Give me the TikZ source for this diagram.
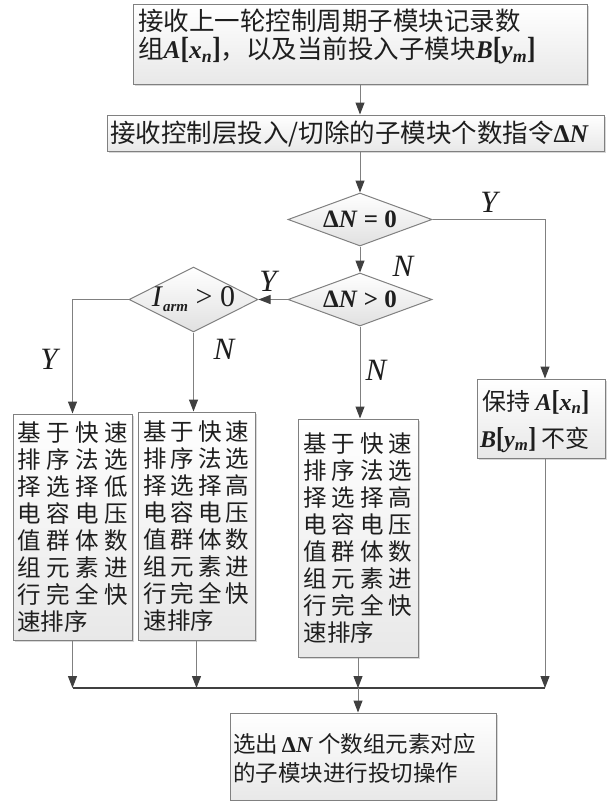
\documentclass[tikz,border=0pt]{standalone}
\usepackage{fontspec}
\setmainfont{Noto Sans CJK SC}
\newfontfamily\tnr{Liberation Serif}
\usetikzlibrary{arrows.meta,shapes.geometric,shadows}
\definecolor{linec}{RGB}{128,128,128}
\definecolor{arrc}{RGB}{64,64,64}
\definecolor{bordc}{RGB}{128,128,128}
\definecolor{txtc}{RGB}{30,30,30}
\newcommand\vDN{{\tnr\bfseries Δ\textit{N}}}
\newcommand\vbr[1]{\scalebox{1}[1.2]{#1}}
\newcommand\vAx{{\tnr\bfseries\textit{A}\vbr{[}\textit{x}\textsubscript{\textit{n}}\vbr{]}}}
\newcommand\vBy{{\tnr\bfseries\textit{B}\vbr{[}\textit{y}\textsubscript{\textit{m}}\vbr{]}}}
\newcommand\rowq[5]{\makebox[#1][l]{#2\hfill#3\hfill#4\hfill#5}}
\newcommand\tightlines{\lineskiplimit=-30pt\relax}
\tikzset{
  boxs/.style={draw=bordc, line width=1pt, top color=white, bottom color=black!9,
    drop shadow={shadow xshift=1.5pt, shadow yshift=-1.5pt, fill=black!30, opacity=0.5},
    inner sep=0pt},
  dias/.style={diamond, aspect=1, draw=bordc, line width=1pt, top color=white,
    bottom color=black!12, inner sep=0pt},
  conn/.style={draw=linec, line width=1pt, -{Triangle[length=12pt,width=9pt,color=arrc]}},
  busln/.style={draw=arrc, line width=2.6pt},
  lbl/.style={font=\tnr\itshape\fontsize{31}{31}\selectfont, text=txtc, inner sep=0pt},
  txt/.style={text=txtc, inner sep=0pt},
  sortt/.style={txt, align=left, font=\fontsize{23.5}{27.1}\selectfont},
}
\begin{document}
\begin{tikzpicture}[x=1pt, y=-1pt]
\useasboundingbox (0,0) rectangle (606,801);
\fill[white] (0,0) rectangle (606,801);

% boxes
\node[boxs, minimum width=454pt, minimum height=80pt] (n1) at (360,44) {};
\node[boxs, minimum width=497pt, minimum height=36pt] (n2) at (355.5,133) {};
\node[dias, minimum width=144pt, minimum height=53pt] (d1) at (360,219.5) {};
\node[dias, minimum width=144pt, minimum height=53pt] (d2) at (360,299.5) {};
\node[dias, minimum width=129pt, minimum height=65pt] (d3) at (193.5,299.5) {};
\node[boxs, minimum width=119pt, minimum height=226pt] (sa) at (72.5,527) {};
\node[boxs, minimum width=117pt, minimum height=228pt] (sb) at (196.5,526) {};
\node[boxs, minimum width=120pt, minimum height=238pt] (sc) at (358,538) {};
\node[boxs, minimum width=128pt, minimum height=79pt] (rb) at (541,418.5) {};
\node[boxs, minimum width=266pt, minimum height=87pt] (fin) at (363,756.5) {};

% texts
\node[txt, anchor=north west, align=left, font=\fontsize{25.5}{28}\selectfont\tightlines] (n1t) at (138,9)
  {接收上一轮控制周期子模块记录数\\组\vAx，以及当前投入子模块\vBy};
\node[txt, anchor=base west, font=\fontsize{25.5}{26}\selectfont] (n2a) at (110,142) {接收控制层投入/切除的子模块个数指令\vDN};
\node[txt, font=\tnr\bfseries\fontsize{25}{25}\selectfont] (d1t) at (d1) {Δ\textit{N} = 0};
\node[txt, font=\tnr\bfseries\fontsize{25}{25}\selectfont] (d2t) at (d2) {Δ\textit{N} > 0};
\node[txt, font=\tnr\fontsize{30}{30}\selectfont] (d3t) at (d3) {\textit{I}\raisebox{-5pt}{\fontsize{15}{15}\selectfont\bfseries\itshape arm} > 0};
\node[sortt] (sat) at (sa) {\rowq{111pt}{基}{于}{快}{速}\\\rowq{111pt}{排}{序}{法}{选}\\\rowq{111pt}{择}{选}{择}{低}\\\rowq{111pt}{电}{容}{电}{压}\\\rowq{111pt}{值}{群}{体}{数}\\\rowq{111pt}{组}{元}{素}{进}\\\rowq{111pt}{行}{完}{全}{快}\\速排序};
\node[sortt] (sbt) at (sb) {\rowq{106pt}{基}{于}{快}{速}\\\rowq{106pt}{排}{序}{法}{选}\\\rowq{106pt}{择}{选}{择}{高}\\\rowq{106pt}{电}{容}{电}{压}\\\rowq{106pt}{值}{群}{体}{数}\\\rowq{106pt}{组}{元}{素}{进}\\\rowq{106pt}{行}{完}{全}{快}\\速排序};
\node[sortt] (sct) at (sc) {\rowq{109pt}{基}{于}{快}{速}\\\rowq{109pt}{排}{序}{法}{选}\\\rowq{109pt}{择}{选}{择}{高}\\\rowq{109pt}{电}{容}{电}{压}\\\rowq{109pt}{值}{群}{体}{数}\\\rowq{109pt}{组}{元}{素}{进}\\\rowq{109pt}{行}{完}{全}{快}\\速排序};
\node[txt, anchor=base west, font=\fontsize{24}{24}\selectfont] (rba) at (482,410) {保持 \vAx};
\node[txt, anchor=base west, font=\fontsize{24}{24}\selectfont] (rbb) at (480,447) {\vBy\ 不变};
\node[txt, anchor=base west, font=\fontsize{22.5}{22.5}\selectfont] (fa) at (233,752) {选出\,\vDN\ 个数组元素对应};
\node[txt, anchor=base west, font=\fontsize{22.5}{22.5}\selectfont] (fb) at (233,781) {的子模块进行投切操作};

% labels
\node[lbl] (ly1) at (489,202) {Y};
\node[lbl] (ln1) at (403,266) {N};
\node[lbl] (ly2) at (268,281) {Y};
\node[lbl] (ly3) at (49,359) {Y};
\node[lbl] (ln3) at (224,349) {N};
\node[lbl] (ln2) at (376,370) {N};

% connectors
\coordinate (busL) at (72.5,688);
\coordinate (busR) at (545,688);
\draw[conn] (n1.south) -- (n1.south |- n2.north);
\draw[conn] (n1.south |- n2.south) -- (d1.north);
\draw[conn] (d1.south) -- (d2.north);
\draw[conn] (d2.west) -- (d3.east);
\draw[conn] (d3.west) -| (sa.north);
\draw[conn] (d3.south) -- (d3.south |- sb.north);
\draw[conn] (d2.south) -- (d2.south |- sc.north);
\draw[conn] (d1.east) -| ([xshift=4pt]rb.north);
\draw[conn] (sa.south) -- (sa.south |- busL);
\draw[conn] (sb.south) -- (sb.south |- busL);
\draw[conn] (sc.south) -- (sc.south |- busL);
\draw[conn] ([xshift=4pt]rb.south) -- (busR);
\draw[busln] (busL) -- (busR);
\draw[conn] (sc.south |- busL) -- (sc.south |- fin.north);
\end{tikzpicture}
\end{document}
